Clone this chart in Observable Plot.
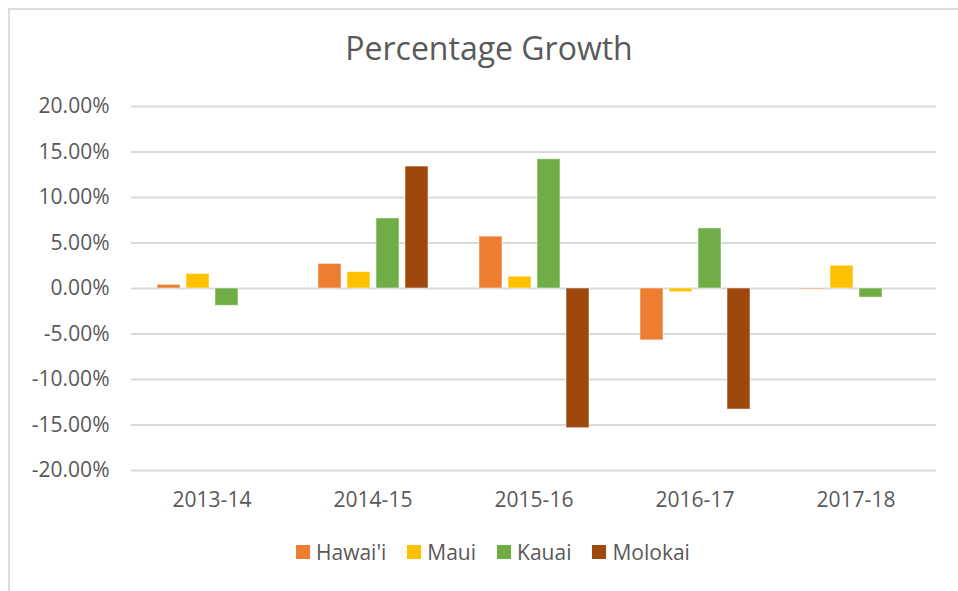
<!DOCTYPE html>
<html>
<head>
<meta charset="utf-8">
<script src="https://cdn.jsdelivr.net/npm/d3@7"></script>
<script src="https://cdn.jsdelivr.net/npm/@observablehq/plot@0.6"></script>
<style>
  html, body { margin: 0; padding: 0; background: #fff; overflow: hidden; }
  body { width: 958px; height: 591px; position: relative; font-family: "Open Sans", sans-serif; color: #595959; }
  #frame { position: absolute; left: 8px; top: 8px; width: 1000px; height: 1000px; border: 2px solid #dcdcdc; box-sizing: border-box; }
  #title { position: absolute; left: 0; top: 26px; width: 978px; text-align: center; font-size: 32px; line-height: 44px; color: #595959; }
  #chart { position: absolute; left: 0; top: 0; }
  #legend { position: absolute; left: 296px; top: 537px; display: flex; align-items: center; font-size: 21px; line-height: 30px; color: #595959; }
  #legend .item { display: flex; align-items: center; margin-right: 21px; }
  #legend .sw { width: 14px; height: 14px; margin-right: 6px; }
</style>
</head>
<body>
<div id="frame"></div>
<div id="title">Percentage Growth</div>
<div id="chart"></div>
<div id="legend"></div>
<script>
const categories = ["2013-14", "2014-15", "2015-16", "2016-17", "2017-18"];
const series = ["Hawai'i", "Maui", "Kauai", "Molokai"];
const colors = ["#ED7D31", "#FFC000", "#70AD47", "#9E480E"];
const hawaii  = [0.004, 0.027, 0.057, -0.057, -0.001];
const maui    = [0.016, 0.018, 0.013, -0.004, 0.025];
const kauai   = [-0.019, 0.077, 0.142, 0.066, -0.010];
const molokai = [0, 0.134, -0.1535, -0.133, 0];
const yTicks = [-0.2, -0.15, -0.1, -0.05, 0, 0.05, 0.1, 0.15, 0.2];

const valuesBySeries = [hawaii, maui, kauai, molokai];
const data = [];
categories.forEach((c, i) => {
  series.forEach((s, j) => {
    data.push({category: c, series: s, value: valuesBySeries[j][i]});
  });
});

const fmt = d => (d * 100).toFixed(2) + "%";

const chart = Plot.plot({
  width: 958,
  height: 520,
  marginTop: 106,
  marginBottom: 50,
  marginLeft: 129,
  marginRight: 20,
  style: {fontFamily: "Open Sans", fontSize: "21px", color: "#595959", background: "transparent", overflow: "visible"},
  fx: {domain: categories, padding: 0, label: null, tickSize: 0, tickPadding: 22},
  x: {domain: series, axis: null, paddingInner: 0.22, paddingOuter: 0.85},
  y: {domain: [-0.2, 0.2], ticks: yTicks, tickFormat: fmt, label: null, tickSize: 0, tickPadding: 22},
  color: {domain: series, range: colors},
  marks: [
    Plot.gridY(yTicks, {stroke: "#d9d9d9", strokeWidth: 2, strokeOpacity: 1}),
    Plot.barY(data, {fx: "category", x: "series", y: "value", fill: "series", stroke: "#ffffff", strokeOpacity: 0.5, strokeWidth: 1})
  ]
});
document.getElementById("chart").appendChild(chart);

const legend = d3.select("#legend");
series.forEach((s, j) => {
  const item = legend.append("div").attr("class", "item");
  item.append("div").attr("class", "sw").style("background", colors[j]);
  item.append("span").text(s);
});
</script>
</body>
</html>
